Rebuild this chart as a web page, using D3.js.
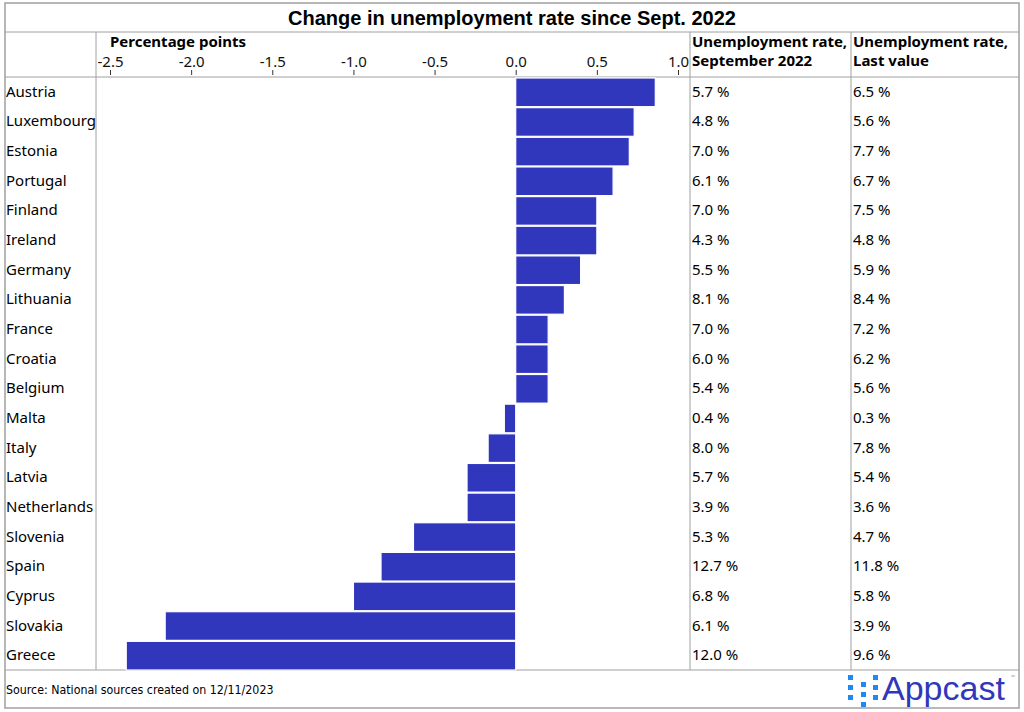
<!DOCTYPE html>
<html>
<head>
<meta charset="utf-8">
<script src="https://cdn.jsdelivr.net/npm/d3@7"></script>
<style>
  body { margin: 0; background: #fff; }
  text { font-family: "Noto Sans", "Open Sans", sans-serif; }
</style>
</head>
<body>
<div id="chart"></div>
<script>
//Data
var countries = ["Austria", "Luxembourg", "Estonia", "Portugal", "Finland", "Ireland", "Germany", "Lithuania",
    "France", "Croatia", "Belgium", "Malta", "Italy", "Latvia", "Netherlands", "Slovenia", "Spain", "Cyprus",
    "Slovakia", "Greece"];
var change = [0.86, 0.73, 0.70, 0.60, 0.50, 0.50, 0.40, 0.30, 0.20, 0.20, 0.20, -0.07, -0.17, -0.30, -0.30,
    -0.63, -0.83, -1.00, -2.16, -2.40];
var rateSept = ["5.7 %", "4.8 %", "7.0 %", "6.1 %", "7.0 %", "4.3 %", "5.5 %", "8.1 %", "7.0 %", "6.0 %",
    "5.4 %", "0.4 %", "8.0 %", "5.7 %", "3.9 %", "5.3 %", "12.7 %", "6.8 %", "6.1 %", "12.0 %"];
var rateLast = ["6.5 %", "5.6 %", "7.7 %", "6.7 %", "7.5 %", "4.8 %", "5.9 %", "8.4 %", "7.2 %", "6.2 %",
    "5.6 %", "0.3 %", "7.8 %", "5.4 %", "3.6 %", "4.7 %", "11.8 %", "5.8 %", "3.9 %", "9.6 %"];
var ticks = [-2.5, -2.0, -1.5, -1.0, -0.5, 0.0, 0.5, 1.0];

//Layout
var W = 1024, H = 712;
var frameL = 5, frameR = 1019, frameT = 3, frameB = 708;
var titleBottom = 32, headBottom = 77, bodyBottom = 670;
var col1 = 96, col2 = 690, col3 = 851;
var barColor = "#3137bd";
var lineColor = "#a0a0a0";

var svg = d3.select("#chart").append("svg")
    .attr("width", W)
    .attr("height", H);

var x = d3.scaleLinear().domain([-2.5, 1.0]).range([110, 678]);
var y = d3.scaleBand().domain(countries).range([headBottom, bodyBottom]);

//Frame and grid lines
svg.append("rect")
    .attr("x", frameL).attr("y", frameT)
    .attr("width", frameR - frameL).attr("height", frameB - frameT)
    .attr("fill", "none").attr("stroke", lineColor).attr("stroke-width", 1.5);

[titleBottom, headBottom, bodyBottom].forEach(function (yy) {
    svg.append("line").attr("x1", frameL).attr("x2", frameR).attr("y1", yy).attr("y2", yy)
        .attr("stroke", lineColor);
});
[col1, col2, col3].forEach(function (xx) {
    svg.append("line").attr("x1", xx).attr("x2", xx).attr("y1", titleBottom).attr("y2", bodyBottom)
        .attr("stroke", lineColor);
});

//Title
svg.append("text")
    .text("Change in unemployment rate since Sept. 2022")
    .attr("x", W / 2).attr("y", 25)
    .attr("text-anchor", "middle")
    .style("font-family", "'Liberation Sans', Arial, sans-serif")
    .style("font-weight", "bold")
    .style("font-size", "20px");

//Axis header
svg.append("text")
    .text("Percentage points")
    .attr("x", 110).attr("y", 47)
    .style("font-weight", "bold").style("font-size", "15px");

var axis = d3.axisTop(x).tickValues(ticks).tickFormat(d3.format(".1f")).tickSize(5).tickPadding(3);
var ax = svg.append("g").attr("transform", "translate(0," + (headBottom - 2) + ")").call(axis);
ax.select(".domain").remove();
ax.selectAll("line").attr("stroke", "#333");
ax.selectAll("text").style("font-family", "'Noto Sans', sans-serif").style("font-size", "15px")
    .attr("fill", "#111")
    .text(function (d) { return d3.format(".1f")(d).replace("−", "-"); });

//Column headers
[col2, col3].forEach(function (cx, k) {
    svg.append("text").attr("x", cx + 2).attr("y", 47)
        .style("font-weight", "bold").style("font-size", "15px").text("Unemployment rate,");
    svg.append("text").attr("x", cx + 2).attr("y", 66)
        .style("font-weight", "bold").style("font-size", "15px").text(k == 0 ? "September 2022" : "Last value");
});

//Bars
svg.selectAll("rect.bar").data(countries).enter().append("rect")
    .attr("class", "bar")
    .attr("x", function (d, i) { return x(Math.min(0, change[i])); })
    .attr("y", function (d) { return y(d) + 1; })
    .attr("width", function (d, i) { return Math.abs(x(change[i]) - x(0)); })
    .attr("height", y.bandwidth() - 1)
    .attr("fill", barColor)
    .attr("stroke", "#fff").attr("stroke-width", 1.2);

//Row labels and values
var rows = svg.selectAll("g.row").data(countries).enter().append("g")
    .attr("class", "row")
    .attr("transform", function (d) { return "translate(0," + (y(d) + y.bandwidth() / 2 + 5) + ")"; });
rows.append("text").attr("x", frameL + 1).style("font-size", "15px").text(function (d) { return d; });
rows.append("text").attr("x", col2 + 2).style("font-size", "15px").text(function (d, i) { return rateSept[i]; });
rows.append("text").attr("x", col3 + 2).style("font-size", "15px").text(function (d, i) { return rateLast[i]; });

//Footer
svg.append("text")
    .text("Source: National sources created on 12/11/2023")
    .attr("x", frameL + 1).attr("y", 694)
    .style("font-family", "'Liberation Sans Narrow', 'DejaVu Sans Condensed', sans-serif")
    .style("font-size", "12.3px");

//Logo
var logoCols = [{x: 848, ys: [675, 685, 695]}, {x: 861, ys: [682, 692, 702]}, {x: 873, ys: [675, 685, 695]}];
logoCols.forEach(function (c) {
    c.ys.forEach(function (yy) {
        svg.append("rect").attr("x", c.x).attr("y", yy).attr("width", 5).attr("height", 5).attr("fill", "#1e88f5");
    });
});
svg.append("text").text("Appcast")
    .attr("x", 882).attr("y", 700)
    .style("font-family", "'Liberation Sans', Arial, sans-serif")
    .style("font-size", "34px")
    .attr("fill", barColor);
svg.append("text").text("™")
    .attr("x", 1011).attr("y", 679)
    .style("font-size", "5px").attr("fill", "#888");
</script>
</body>
</html>
